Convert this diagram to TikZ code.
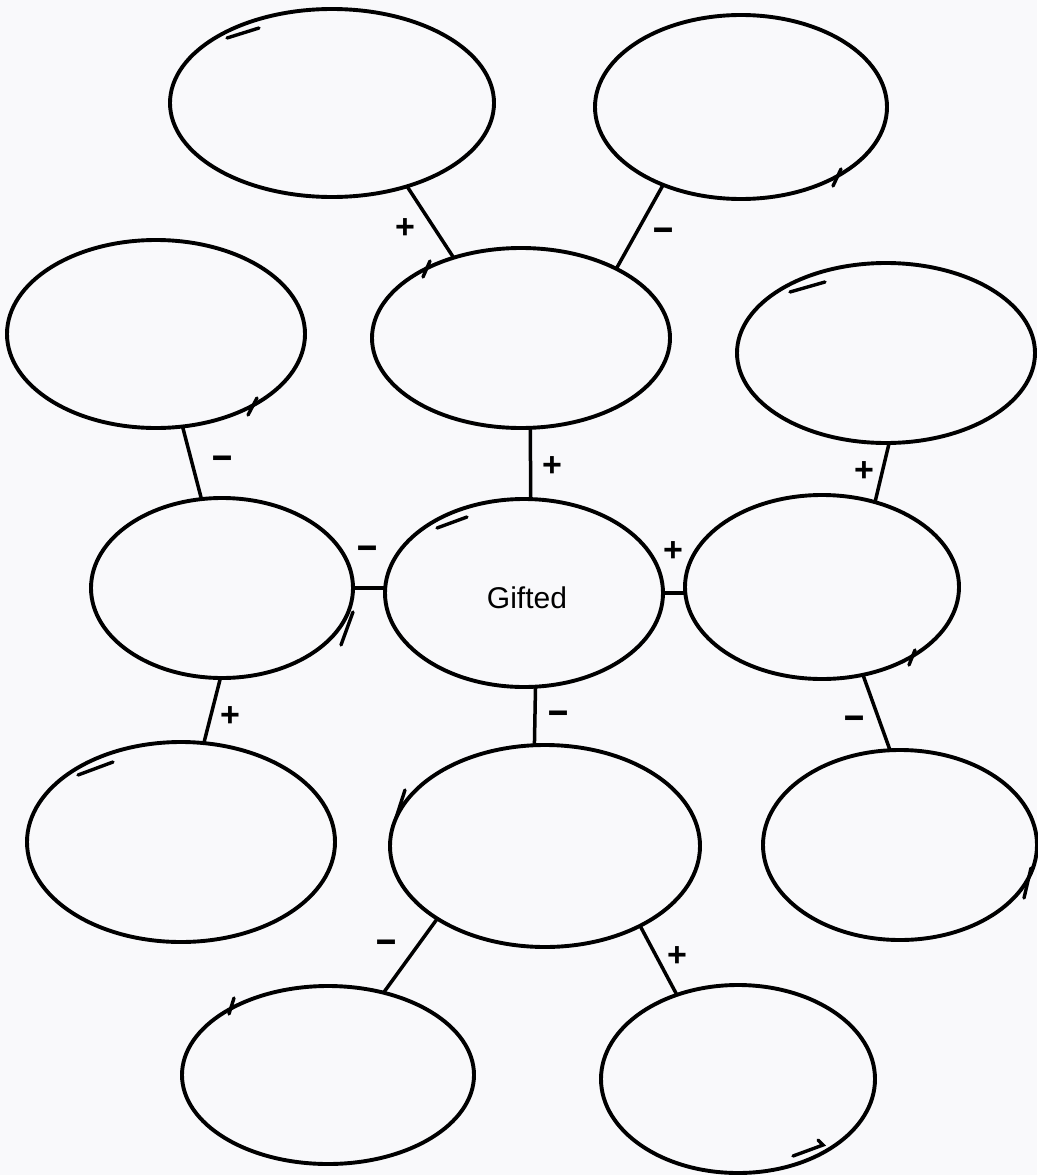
\documentclass[tikz,border=0pt]{standalone}
\usepackage{fontspec}
\usepackage{graphicx}
\setmainfont{Liberation Sans}
\usetikzlibrary{shapes.geometric}
\definecolor{paper}{RGB}{249,249,251}
\begin{document}
\begin{tikzpicture}[x=1pt,y=-1pt,
  bub/.style={ellipse,draw,line width=3.9pt,inner sep=0pt,outer sep=0pt},
  link/.style={line width=3.5pt},
  pen/.style={line width=3.4pt,line cap=round},
  plus/.style={font=\fontsize{34}{34}\selectfont\bfseries,inner sep=0pt},
  minus/.style={font=\fontsize{24}{24}\selectfont\bfseries,inner sep=0pt},
]
\fill[paper] (0,0) rectangle (1037,1175);
\useasboundingbox (0,0) rectangle (1037,1175);

% bubbles
\node[bub,minimum width=324pt,minimum height=188pt] (e1) at (332,103) {};
\node[bub,minimum width=292pt,minimum height=184pt] (e2) at (741,107) {};
\node[bub,minimum width=298pt,minimum height=180pt] (e3) at (521,338) {};
\node[bub,minimum width=298pt,minimum height=188pt] (e4) at (156,334) {};
\node[bub,minimum width=298pt,minimum height=180pt] (e5) at (886,353) {};
\node[bub,minimum width=262pt,minimum height=180pt] (e6) at (222,588) {};
\node[bub,minimum width=278pt,minimum height=188pt] (e7) at (524,593) {};
\node[bub,minimum width=274pt,minimum height=184pt] (e8) at (822,587) {};
\node[bub,minimum width=308pt,minimum height=200pt] (e9) at (181,842) {};
\node[bub,minimum width=310pt,minimum height=202pt] (e10) at (545,846) {};
\node[bub,minimum width=274pt,minimum height=190pt] (e11) at (900,845) {};
\node[bub,minimum width=292pt,minimum height=178pt] (e12) at (328,1075) {};
\node[bub,minimum width=274pt,minimum height=188pt] (e13) at (738,1079) {};

\node[font=\fontsize{30}{30}\selectfont,inner sep=0pt] (gift) at (527,598) {Gifted};

% connectors
\draw[link] (e1.-48) -- (e3.130);
\draw[link] (e2.225) -- (e3.36);
\draw[link] (e4.-74) -- (e6.103);
\draw[link] (e3.-84) -- (e7.86);
\draw[link] (e5.-88) -- (e8.58);
\draw[link] (e6.east) -- (e6.east -| e7.west);
\draw[link] (e7.east) -- (e7.east -| e8.west);
\draw[link] (e6.-91) -- (e9.77);
\draw[link] (e7.-83) -- (e10.96);
\draw[link] (e8.-65) -- (e11.96);
\draw[link] (e10.214) -- (e12.56);
\draw[link] (e10.-40) -- (e13.126);

% signs
\node[plus] (s13) at (405,229) {+};
\node[minus] (s23) at (664,235) {\scalebox{1.5}[1.9]{–}};
\node[minus] (s46) at (223,463) {\scalebox{1.5}[1.9]{–}};
\node[plus] (s37) at (552,467) {+};
\node[plus] (s58) at (864,472) {+};
\node[minus] (s67) at (368,553) {\scalebox{1.5}[1.9]{–}};
\node[plus] (s78) at (673,552) {+};
\node[plus] (s69) at (230,717) {+};
\node[minus] (s710) at (559,718) {\scalebox{1.5}[1.9]{–}};
\node[minus] (s811) at (854,723) {\scalebox{1.5}[1.9]{–}};
\node[minus] (s1012) at (387,947) {\scalebox{1.5}[1.9]{–}};
\node[plus] (s1013) at (677,957) {+};

% pen overlap strokes
\draw[pen] (227,38) -- (259,28);
\draw[pen] (833,186) -- (841,169);
\draw[pen] (423,277) -- (430,261);
\draw[pen] (248,415) -- (257,398);
\draw[pen] (790,292) -- (825,282);
\draw[pen] (353,612) -- (341,645);
\draw[pen] (437,528) -- (467,517);
\draw[pen] (909,665) -- (915,650);
\draw[pen] (78,775) -- (113,762);
\draw[pen] (405,790) -- (396,818);
\draw[pen] (1031,868) -- (1024,898);
\draw[pen] (229,1014) -- (234,998);
\draw[pen] (793,1156) -- (823,1145) -- (818,1140);
\end{tikzpicture}
\end{document}
